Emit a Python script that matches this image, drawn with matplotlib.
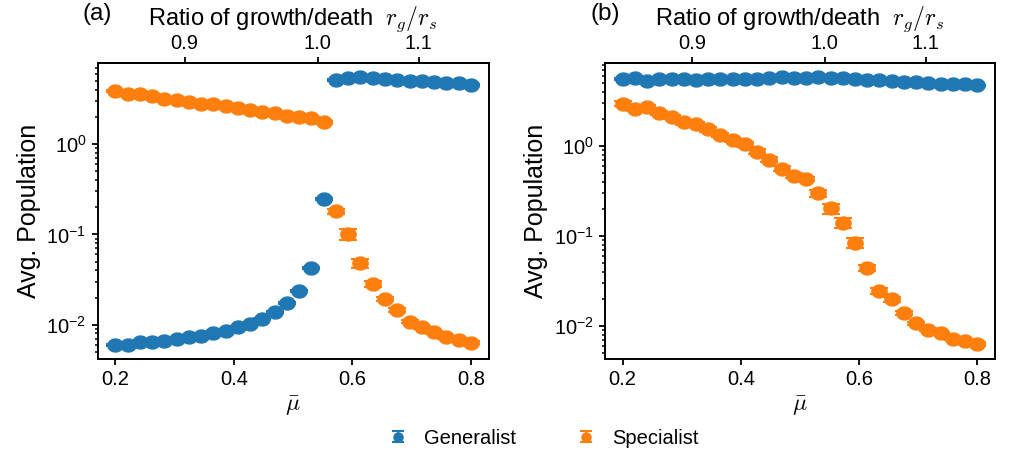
import numpy as np
import matplotlib
matplotlib.use("Agg")
import matplotlib.pyplot as plt
from matplotlib.path import Path
from matplotlib.container import ErrorbarContainer
from matplotlib.legend_handler import HandlerErrorbar

plt.rcParams['font.family'] = 'sans-serif'
plt.rcParams['font.sans-serif'] = ['Liberation Sans', 'DejaVu Sans']
plt.rcParams['mathtext.fontset'] = 'cm'
plt.rcParams['axes.linewidth'] = 1.4

# mean mutation rate grid (x axis)
mu = np.round(np.linspace(0.2, 0.8, 30), 4)

# panel (a)
gen_a = [0.0060, 0.0060, 0.0064, 0.0064, 0.0066, 0.0070, 0.0073, 0.0075, 0.0080,
         0.0085, 0.0094, 0.0102, 0.0117, 0.0139, 0.0173, 0.0238, 0.0426, 0.249,
         5.16, 5.47, 5.51, 5.37, 5.29, 5.16, 5.07, 4.98, 4.86, 4.79, 4.70, 4.55]
spec_a = [3.91, 3.62, 3.55, 3.39, 3.19, 3.11, 2.93, 2.82, 2.75, 2.63, 2.52, 2.38,
          2.30, 2.21, 2.06, 1.99, 1.96, 1.74, 0.181, 0.101, 0.0483, 0.0284, 0.0191,
          0.0146, 0.0108, 0.00935, 0.00826, 0.00728, 0.00679, 0.00630]
gen_a_rel = [0.02] * 17 + [0.03] + [0.02] * 12
spec_a_rel = [0.03] * 18 + [0.06, 0.13, 0.11, 0.08, 0.05, 0.05, 0.04, 0.04,
                            0.04, 0.04, 0.04, 0.04]

# panel (b)
gen_b = [5.57, 5.71, 5.25, 5.52, 5.52, 5.61, 5.47, 5.61, 5.61, 5.61, 5.57, 5.61,
         5.71, 5.81, 5.71, 5.71, 5.81, 5.75, 5.66, 5.61, 5.47, 5.38, 5.25, 5.20,
         5.12, 5.04, 4.95, 4.91, 4.83, 4.71]
spec_b = [2.96, 2.61, 2.71, 2.33, 2.10, 1.84, 1.75, 1.53, 1.33, 1.17, 1.05, 0.871,
          0.705, 0.561, 0.471, 0.433, 0.299, 0.204, 0.140, 0.0841, 0.0443, 0.0249,
          0.0199, 0.0140, 0.0108, 0.00914, 0.00835, 0.00729, 0.00682, 0.00637]
gen_b_rel = [0.02] * 30
spec_b_rel = [0.06] * 16 + [0.09, 0.13, 0.13, 0.13, 0.08, 0.08, 0.07, 0.05,
                            0.04, 0.04, 0.04, 0.04, 0.04, 0.04]

# top axis: growth/death ratio ticks and where they sit on mu
ratio_ticks = ['0.9', '1.0', '1.1']
ratio_tick_mu = [0.317, 0.542, 0.7125]

# slightly wide circle, like the reference
t = np.linspace(0, 2 * np.pi, 60)
ell = Path(np.column_stack([1.18 * np.cos(t), np.sin(t)]), closed=True)

fig = plt.figure(figsize=(10.21, 4.55), dpi=100)
ax_a = fig.add_axes([0.0955, 0.211, 0.383, 0.6505])
ax_b = fig.add_axes([0.5925, 0.211, 0.382, 0.6505])

panels = [(ax_a, '(a)', gen_a, gen_a_rel, spec_a, spec_a_rel),
          (ax_b, '(b)', gen_b, gen_b_rel, spec_b, spec_b_rel)]

eb_kw = dict(marker=ell, ms=11, ls='none', capsize=6.5,
             elinewidth=1.5, capthick=1.5)

for ax, tag, g, g_rel, s, s_rel in panels:
    ax.errorbar(mu, g, yerr=np.array(g) * np.array(g_rel), color='tab:blue', **eb_kw)
    ax.errorbar(mu, s, yerr=np.array(s) * np.array(s_rel), color='tab:orange', **eb_kw)
    ax.set_yscale('log')
    ax.set_xticks([0.2, 0.4, 0.6, 0.8])
    ax.tick_params(labelsize=14.5, width=1.3, length=4.5)
    ax.tick_params(which='minor', width=1.1, length=2.5)
    ax.set_xlabel(r'$\bar{\mu}$', fontsize=17)
    ax.set_ylabel('Avg. Population', fontsize=18)

    top = ax.secondary_xaxis('top')
    top.set_xticks(ratio_tick_mu, ratio_ticks)
    top.tick_params(labelsize=14.5, width=1.3, length=4.5, pad=3)
    top.set_xlabel(r'Ratio of growth/death  $r_g/r_s$', fontsize=17, labelpad=6)
    ax.text(0.0, 1.145, tag, transform=ax.transAxes, ha='center',
            va='baseline', fontsize=17.5)

# legend proxies with smaller markers and caps
small = dict(marker='o', ms=6.5, ls='none', capsize=4, elinewidth=1.5, capthick=1.5)
pg = ax_b.errorbar([np.nan], [np.nan], yerr=[np.nan], color='tab:blue', **small)
ps = ax_b.errorbar([np.nan], [np.nan], yerr=[np.nan], color='tab:orange', **small)

fig.legend([pg, ps], ['Generalist', 'Specialist'], loc='center',
           bbox_to_anchor=(0.532, 0.037), ncol=2, frameon=False, fontsize=14.5,
           handlelength=1.0, columnspacing=3.0,
           handler_map={ErrorbarContainer: HandlerErrorbar(xerr_size=0.29)})

fig.savefig('out.png', dpi=100)
